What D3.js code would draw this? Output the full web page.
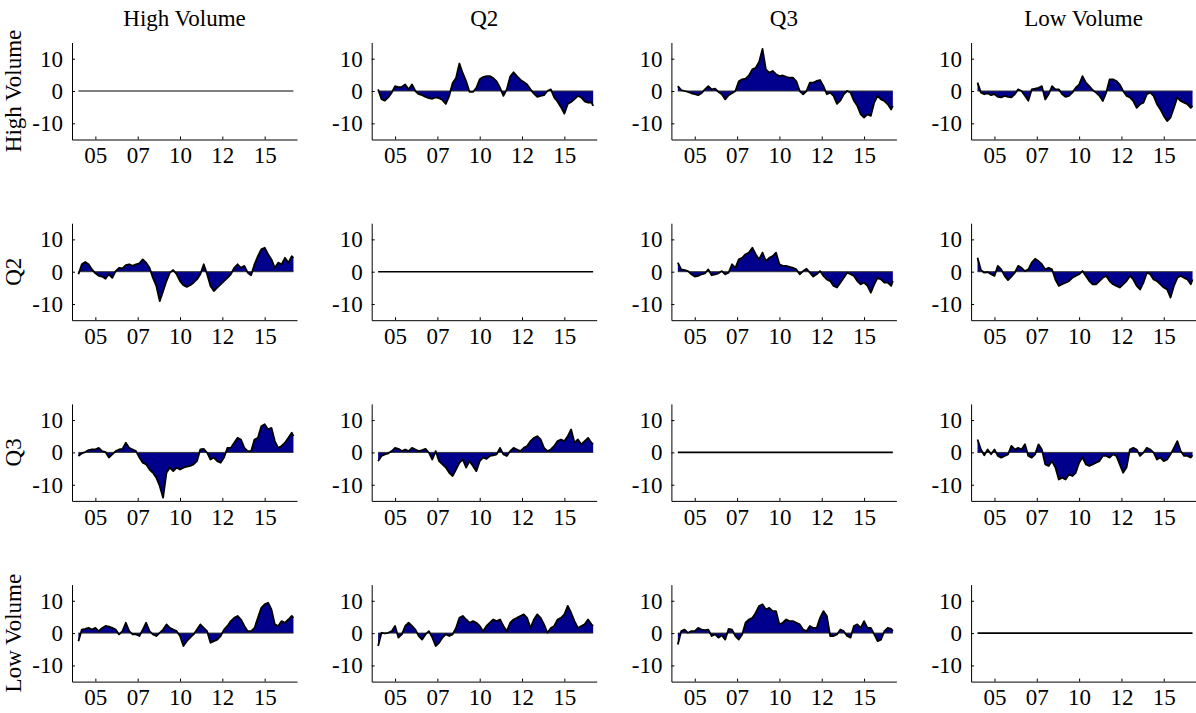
<!DOCTYPE html>
<html>
<head>
<meta charset="utf-8">
<script src="https://cdn.jsdelivr.net/npm/d3@7"></script>
<style>
  body { margin: 0; background: #fff; }
  text { font-family: "Liberation Serif", "Times New Roman", serif; }
</style>
</head>
<body>
<div id="chart"></div>
<script>
// groups (rows and columns)
const groups = ['High Volume', 'Q2', 'Q3', 'Low Volume']

// sampling dates (decimal years)
const dates = [
  2004.0, 2004.2, 2004.4, 2004.6, 2004.8,
  2005.0, 2005.2, 2005.4, 2005.6, 2005.8,
  2006.0, 2006.2, 2006.4, 2006.6, 2006.8,
  2007.0, 2007.2, 2007.4, 2007.6, 2007.8,
  2008.0, 2008.2, 2008.4, 2008.6, 2008.8,
  2009.0, 2009.2, 2009.4, 2009.6, 2009.8,
  2010.0, 2010.2, 2010.4, 2010.6, 2010.8,
  2011.0, 2011.2, 2011.4, 2011.6, 2011.8,
  2012.0, 2012.2, 2012.4, 2012.6, 2012.8,
  2013.0, 2013.2, 2013.4, 2013.6, 2013.8,
  2014.0, 2014.2, 2014.4, 2014.6, 2014.8,
  2015.0, 2015.2, 2015.4, 2015.6, 2015.8,
  2016.0, 2016.2, 2016.4, 2016.6, 2016.7
]

// x ticks and their labels
const xTicks = [2005, 2007.5, 2010, 2012.5, 2015]
const xTickLabels = ['05', '07', '10', '12', '15']
const yTicks = [-10, 0, 10]

// row High Volume
const hvQ2 = [
  0.5, -2.5, -3, -2, -0.5,   1.5, 1.2, 1.3, 2, 0.5,   2, 0, -1, -1.3, -1.8,
  -2.2, -2.4, -2, -2.2, -2.8,   -4, -1.5, 2.5, 4, 8.5,   5.5, 3, -0.3, -0.3, 1,
  3.6, 4.3, 4.6, 4.6, 4,   3, 1, -1.5, 0.5, 4.5,   5.8, 4.6, 3.5, 2.8, 2,
  0.5, -0.8, -1.8, -1.5, -1.3,   0, 0.5, -2, -3.3, -5,   -7, -4, -3.4, -2.5, -1.5,
  -2, -3.2, -3.6, -3.5, -4.6
]
const hvQ3 = [
  1.5, 0.3, 0, -0.3, -0.7,   -1, -1.3, -0.7, 0.5, 1.5,   0.5, 0.7, -0.3, -1, -2.6,
  -1.3, -0.7, 0, 3, 3.6,   3.8, 4.8, 6.7, 7.2, 9,   13, 6.7, 5.7, 6.2, 5.2,
  4.6, 4.8, 4.4, 4.1, 4.1,   3, 0, -1, 0, 2.6,   2.6, 3.1, 3.4, 1.5, -1,
  -0.5, -1.5, -4, -3, -1,   0, -0.5, -3, -4.6, -7.2,   -8.2, -7.2, -7.7, -3.6, -1.5,
  -2.6, -3.1, -4.1, -5.7, -4.6
]
const hvLow = [
  2.6, -0.5, -1, -0.7, -1.3,   -1, -1.8, -2, -1.5, -1.8,   -2, -1, 0.5, 0, -1.5,
  -3, 0.5, 0.7, 1, 1.5,   -2.6, -1, 1.5, 0.5, 0.5,   -1, -1.8, -1.5, -0.5, 1,
  2, 4.6, 2.6, 1.5, 0.3,   -0.5, -1.5, -3.1, -0.5, 3.6,   3.6, 3.1, 2, 0, -1.5,
  -2, -3.1, -5.2, -4.1, -3.6,   -1, -0.5, -1.5, -4.1, -5.7,   -7.7, -9.3, -8.2, -5.2, -2,
  -3.1, -3.6, -4.1, -5.2, -4.6
]

// row Q2
const q2Hv = [
  -0.8, 2.3, 3, 2.3, 0.7,   -0.5, -1.3, -1.5, -2.2, -0.8,   -1.9, 0.2, 1.2, 1, 2,
  2.3, 1.8, 2.3, 2.6, 3.8,   2.8, 1.2, -1.9, -4.4, -9.1,   -6, -2.9, -0.3, 0.5, -0.8,
  -2.9, -4.2, -4.7, -4.2, -3.4,   -2.4, -0.8, 2.3, -0.8, -4.4,   -6, -4.9, -3.9, -2.9, -1.9,
  -0.8, 1.2, 2.3, 1.2, 1.8,   -0.3, -1.1, 2.3, 4.8, 6.9,   7.4, 5.4, 3.8, 1.2, 2.8,
  2.3, 4.3, 2.8, 4.8, 4.3
]
const q2Q3 = [
  2.8, 0.7, 0.5, 0.2, -0.8,   -1.5, -1.3, -0.8, -0.5, 0.7,   -1.1, -0.8, -0.5, 0.2, -0.8,
  -0.3, 2.3, 1.2, 3.8, 4.3,   5.4, 5.9, 7.4, 5.4, 3.8,   5.9, 3.3, 4.3, 4.8, 5.9,
  2.3, 1.8, 1.8, 1.5, 1.2,   0.7, -0.8, 0.2, 0.9, -0.3,   -1.5, -0.8, 0.2, -1.3, -2.4,
  -2.9, -4.4, -4.9, -3.4, -1.9,   -0.3, -0.8, -1.3, -2.9, -3.9,   -3.4, -4.4, -6.5, -3.9, -1.9,
  -2.4, -3.4, -3.4, -4.4, -2.9
]
const q2Low = [
  4.3, 0.5, -0.3, -0.1, -0.8,   -1.3, 1.8, 0.7, -1.3, -2.6,   -1.5, -0.3, 1.8, 1.2, 0.2,
  0.7, 2.8, 4, 3.3, 2.3,   0.7, 1.2, 0.7, -2.4, -4.4,   -3.9, -3.4, -2.9, -1.9, -1.3,
  -0.8, 0.2, -1.3, -2.9, -3.9,   -3.9, -2.9, -1.9, -1.3, -2.9,   -3.9, -4.4, -4.9, -3.9, -2.9,
  -1.3, -2.4, -4.4, -5.5, -3.4,   -0.3, -0.8, -2.4, -2.9, -3.9,   -4.9, -5.5, -8, -4.4, -1.9,
  -1.3, -1.9, -2.4, -3.9, -2.4
]

// row Q3
const q3Hv = [
  -1.1, -0.3, 0.1, 0.7, 0.9,   0.9, 1.4, 0.4, 0.1, -1.6,   -0.6, 0.4, 0.9, 1.1, 3,
  1.4, 0.9, 0.4, -1.6, -3.2,   -3.7, -5.3, -6.3, -7.8, -10.4,   -14, -6.3, -4.7, -5.8, -4.7,
  -5.3, -4.7, -4.4, -4.2, -3.7,   -2.7, 0.9, 1.1, -0.1, -2.2,   -1.6, -2.7, -3.2, -1.6, 1.4,
  1.4, 3, 4.5, 4, 1.4,   0.4, 0.4, 4, 4.5, 8.1,   8.7, 7.1, 7.6, 3.5, 1.4,
  2, 3, 4.5, 6.1, 5
]
const q3Q2 = [
  -2.7, -1.1, -0.6, -0.3, 0.4,   1.4, 1.1, 0.4, 0.9, 0.4,   1.4, 0.9, 0.4, 0.7, 1.1,
  -0.1, -2.2, 0.4, -2.7, -3.7,   -4.7, -6.3, -7.3, -5.3, -3.2,   -2.2, -4.7, -2.7, -4.2, -5.8,
  -2.7, -1.6, -2, -1.1, -0.9,   -0.6, 1.4, -0.6, -1.1, 0.4,   1.4, 0.9, 0.4, 1.4, 2,
  3.5, 4.5, 5, 4, 1.4,   0.4, 0.9, 2, 3.5, 4,   3.5, 5, 7.1, 3, 4,
  2.5, 3.5, 4.5, 3, 2.5
]
const q3Low = [
  4, 0.9, -0.9, 0.9, -0.6,   0.9, -1.1, -1.6, -1.1, -0.6,   2, 0.9, 1.4, 0.9, 2.5,
  -1.1, -1.6, -0.6, 2.5, 0.9,   -3.7, -4.2, -2.7, -4.7, -8.4,   -7.8, -8.4, -6.8, -7.3, -6.3,
  -3.2, -1.6, -3.7, -4.2, -3.7,   -3.2, -2.7, -1.1, -1.1, -1.6,   -0.6, -1.1, -3.7, -6.3, -4.7,
  0.9, 1.4, 0.9, -1.1, -0.1,   1.4, 0.9, -0.1, -2.2, -1.6,   -2.7, -2.2, -0.6, 1.4, 3.5,
  0.4, -1.1, -1.1, -1.6, -0.9
]

// row Low Volume
const lowHv = [
  -2.5, 1.1, 1.3, 1.6, 1.1,   1.6, 0.6, 1.6, 2.2, 2,   1.6, 1.1, -0.4, 0.6, 3.2,
  0.6, -0.4, -0.4, -0.9, 1.1,   3.2, 0.6, -0.4, -0.9, 0.1,   1.1, 2.7, 1.6, 1.1, 0.6,
  -0.9, -4, -2.5, -1.4, -0.4,   1.1, 2.7, 1.6, 0.6, -3,   -2.5, -2, -0.9, 1.1, 2.2,
  3.7, 4.7, 5.3, 4.2, 2.2,   0.6, 0.6, 1.6, 4.7, 7.8,   8.9, 9.4, 7.3, 2.7, 2.2,
  3.7, 3.2, 4.2, 5.3, 4.7
]
const lowQ2 = [
  -4, 0.1, -0.1, 0.1, 0.6,   2.2, -1.4, -0.4, 2.2, 3.2,   2.2, 1.1, -0.9, -2, -0.4,
  0.6, -1.4, -4, -3, -1.4,   -0.4, -0.9, -0.4, 1.6, 4.7,   5.3, 4.2, 3.2, 3.7, 3.2,
  2.2, 0.6, 2.2, 3.2, 4.2,   3.7, 4.2, 2.2, 0.6, 3.2,   4.2, 4.7, 5.3, 5.8, 4.7,
  1.6, 4.2, 5.8, 4.7, 2.7,   0.1, 1.6, 2.2, 4.2, 4.7,   5.8, 8.4, 6.3, 3.7, 1.6,
  2.2, 2.7, 4.2, 2.7, 2.2
]
const lowQ3 = [
  -3.5, 0.6, 1.1, 0.1, 0.6,   0.6, 1.6, 1.1, 0.9, 1.1,   -0.9, -0.4, -1.4, -0.7, -2,
  1.3, 1.1, -0.9, -2, -0.4,   3.2, 4.2, 4.7, 6.3, 8.4,   8.9, 7.3, 7.8, 6.8, 6.8,
  2.7, 3.2, 4.2, 3.7, 3.7,   3.2, 2.7, 1.1, 0.6, 2.2,   1.6, 1.6, 4.7, 6.8, 5.3,
  -0.9, -0.9, -0.4, 1.1, 0.6,   -0.9, -1.4, 2.2, 2.7, 1.6,   3.7, 1.6, 1.6, -0.4, -2.5,
  -2, 0.6, 1.6, 1.3, 0.6
]

// grid of series, null on the diagonal
const grid = [
  [null, hvQ2, hvQ3, hvLow],
  [q2Hv, null, q2Q3, q2Low],
  [q3Hv, q3Q2, null, q3Low],
  [lowHv, lowQ2, lowQ3, null]
]

const width = 1196, height = 713
const panelW = 225, panelH = 97
const colX = c => 72 + 299.7 * c
const rowTop = r => 42.5 + 180.7 * r
const serif = '"Liberation Serif", "Times New Roman", serif'

const svg = d3.select('#chart').append('svg')
  .attr('width', width)
  .attr('height', height)

const x = d3.scaleLinear().domain([2003.62, 2016.91]).range([0, panelW])
const y = d3.scaleLinear().domain([-15, 15]).range([panelH, 0])

const area = d3.area()
  .x((d, i) => x(dates[i]))
  .y0(y(0))
  .y1(d => y(d))
const line = d3.line()
  .x((d, i) => x(dates[i]))
  .y(d => y(d))

// column titles
groups.forEach((name, c) => {
  svg.append('text')
    .attr('x', colX(c) + panelW / 2)
    .attr('y', 26)
    .attr('text-anchor', 'middle')
    .style('font-size', '23px')
    .text(name)
})
// row titles
groups.forEach((name, r) => {
  svg.append('text')
    .attr('transform', 'translate(21,' + (rowTop(r) + panelH / 2) + ') rotate(-90)')
    .attr('text-anchor', 'middle')
    .style('font-size', '23px')
    .text(name)
})

for (let r = 0; r < 4; r++) {
  for (let c = 0; c < 4; c++) {
    const g = svg.append('g')
      .attr('transform', 'translate(' + colX(c) + ',' + rowTop(r) + ')')
    const series = grid[r][c]

    if (series) {
      g.append('path')
        .datum(series)
        .attr('d', area)
        .attr('fill', '#00008c')
      g.append('line')
        .attr('x1', x(dates[0])).attr('x2', x(dates[dates.length - 1]))
        .attr('y1', y(0)).attr('y2', y(0))
        .attr('stroke', '#333').attr('stroke-width', 1)
      g.append('path')
        .datum(series)
        .attr('d', line)
        .attr('fill', 'none')
        .attr('stroke', '#000')
        .attr('stroke-width', 1.8)
        .attr('stroke-linejoin', 'round')
    } else {
      g.append('line')
        .attr('x1', x(dates[0])).attr('x2', x(dates[dates.length - 1]))
        .attr('y1', y(0)).attr('y2', y(0))
        .attr('stroke', '#000').attr('stroke-width', r === 0 ? 1 : 1.6)
    }

    const yAxis = d3.axisLeft(y)
      .tickValues(yTicks)
      .tickSizeInner(-3)
      .tickSizeOuter(0)
      .tickPadding(9)
      .tickFormat(d => d < 0 ? '-' + Math.abs(d) : d)
    const xAxis = d3.axisBottom(x)
      .tickValues(xTicks)
      .tickSizeInner(-3)
      .tickSizeOuter(0)
      .tickPadding(7.5)
      .tickFormat((d, i) => xTickLabels[i])

    const ya = g.append('g').call(yAxis)
    const xa = g.append('g').attr('transform', 'translate(0,' + panelH + ')').call(xAxis)
    ;[ya, xa].forEach(a => {
      a.attr('font-family', serif).attr('font-size', 23)
      a.selectAll('text')
        .style('font-family', serif)
        .style('font-size', '23px')
        .attr('fill', '#000')
      a.selectAll('line, path').attr('stroke', '#000')
    })
  }
}
</script>
</body>
</html>
